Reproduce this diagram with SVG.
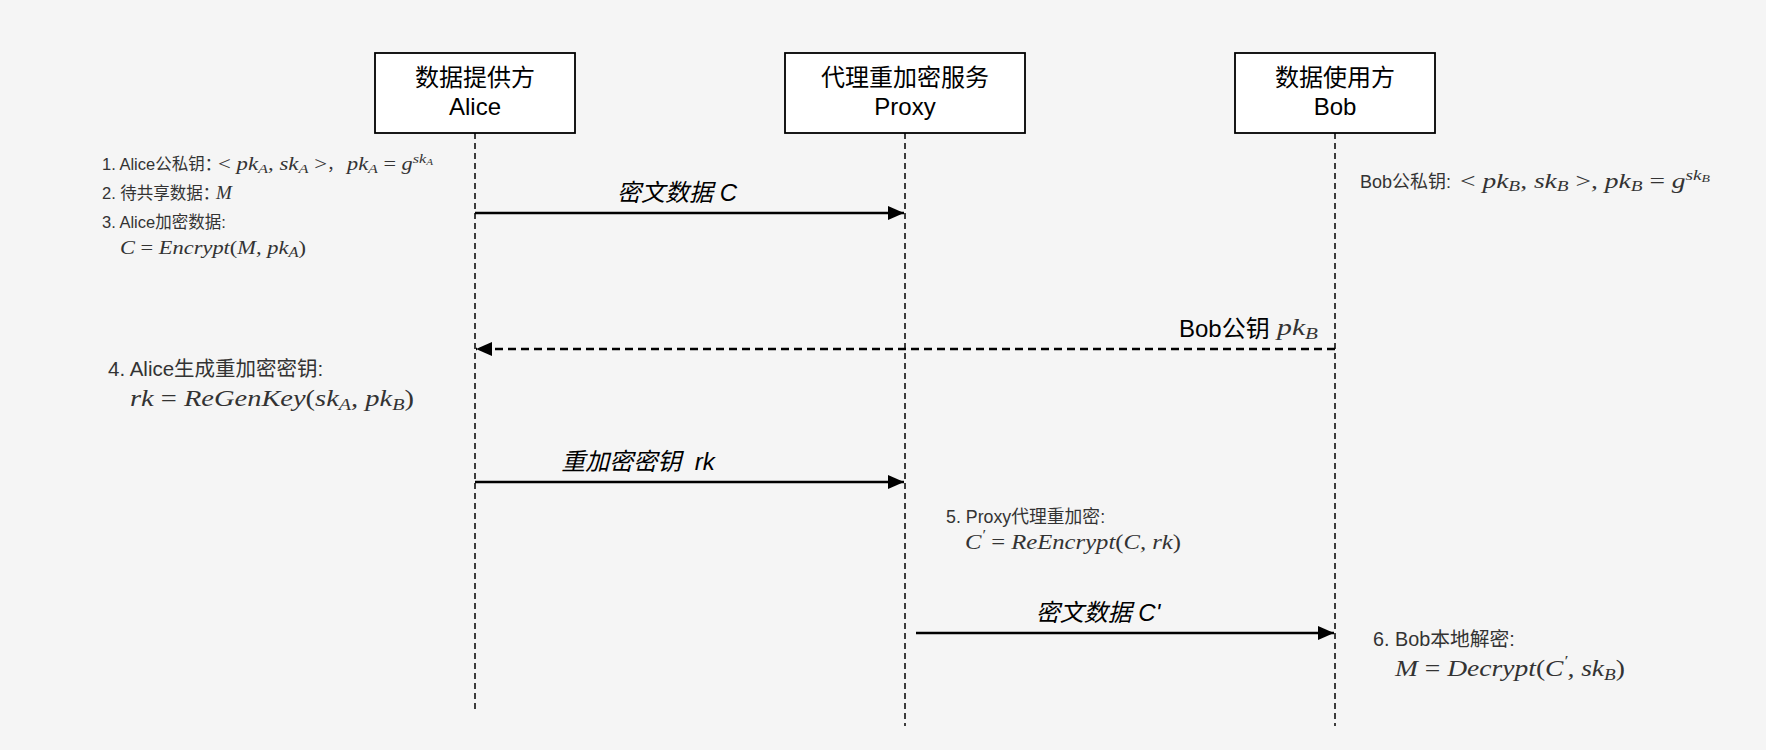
<svg xmlns="http://www.w3.org/2000/svg" width="1766" height="750" viewBox="0 0 1766 750">
<style>
.bg{fill:#f5f5f5}
.box{fill:#ffffff;stroke:#000000;stroke-width:1.8}
.life{stroke:#000000;stroke-width:1.5;stroke-dasharray:6 4;fill:none}
.msg{stroke:#000000;stroke-width:2.4;fill:none}
.dmsg{stroke:#000000;stroke-width:2.4;fill:none;stroke-dasharray:8 5}
.t{font-family:"Liberation Sans","Noto Sans CJK SC",sans-serif;fill:#000000}
.g{font-family:"Liberation Sans","Noto Sans CJK SC",sans-serif;fill:#333333}
.m{font-family:"Liberation Serif",serif;font-style:italic;fill:#333333}
.mk{font-family:"Liberation Serif",serif;font-style:italic;fill:#333333}
.up{font-style:normal}
.lbl{font-family:"Liberation Sans","Noto Sans CJK SC",sans-serif;font-style:italic;font-size:24px;fill:#000000}
.hd{font-family:"Liberation Sans","Noto Sans CJK SC",sans-serif;font-size:24px;fill:#000000}
</style>
<defs>
<marker id="arr" markerUnits="userSpaceOnUse" markerWidth="18" markerHeight="16" refX="16" refY="7" orient="auto">
<path d="M0,0 L16,7 L0,14 z" fill="#000000"/>
</marker>
</defs>
<rect class="bg" x="0" y="0" width="1766" height="750"/>

<g id="lifelines">
<line class="life" x1="475" y1="133" x2="475" y2="713"/>
<line class="life" x1="905" y1="133" x2="905" y2="726"/>
<line class="life" x1="1335" y1="133" x2="1335" y2="726"/>
</g>

<g id="alice">
<rect class="box" x="375" y="53" width="200" height="80"/>
<text class="hd" x="475" y="86" text-anchor="middle">数据提供方</text>
<text class="hd" x="475" y="115" text-anchor="middle">Alice</text>
</g>
<g id="proxy">
<rect class="box" x="785" y="53" width="240" height="80"/>
<text class="hd" x="905" y="86" text-anchor="middle">代理重加密服务</text>
<text class="hd" x="905" y="115" text-anchor="middle">Proxy</text>
</g>
<g id="bob">
<rect class="box" x="1235" y="53" width="200" height="80"/>
<text class="hd" x="1335" y="86" text-anchor="middle">数据使用方</text>
<text class="hd" x="1335" y="115" text-anchor="middle">Bob</text>
</g>

<g id="connectors">
<line class="msg" x1="475" y1="213" x2="904" y2="213" marker-end="url(#arr)"/>
<text class="lbl" x="677" y="201" text-anchor="middle">密文数据 C</text>
<line class="dmsg" x1="1335" y1="349" x2="476" y2="349" marker-end="url(#arr)"/>
<text class="t" x="1179" y="337" font-size="24">Bob公钥</text>
<text class="mk" x="1277" y="335" font-size="24" textLength="41" lengthAdjust="spacingAndGlyphs">pk<tspan font-size="17" dy="4">B</tspan></text>
<line class="msg" x1="475" y1="482" x2="904" y2="482" marker-end="url(#arr)"/>
<text class="lbl" x="638" y="470" text-anchor="middle">重加密密钥&#160;&#160;rk</text>
<line class="msg" x1="916" y1="633" x2="1334" y2="633" marker-end="url(#arr)"/>
<text class="lbl" x="1098" y="621" text-anchor="middle">密文数据 C'</text>
</g>

<g id="alice-notes">
<text class="g" x="102" y="170" font-size="16.5">1. Alice公私钥：</text>
<text class="m" x="218" y="170" font-size="18" textLength="109" lengthAdjust="spacingAndGlyphs"><tspan class="up">&lt;</tspan> pk<tspan font-size="13" dy="3">A</tspan><tspan dy="-3">, sk</tspan><tspan font-size="13" dy="3">A</tspan><tspan dy="-3" class="up"> &gt;</tspan></text>
<text class="g" x="327" y="170" font-size="16">，</text>
<text class="m" x="347" y="170" font-size="18" textLength="86" lengthAdjust="spacingAndGlyphs">pk<tspan font-size="13" dy="3">A</tspan><tspan dy="-3" class="up"> = </tspan>g<tspan font-size="13" dy="-7">sk</tspan><tspan font-size="9" dy="2">A</tspan></text>
<text class="g" x="102" y="199" font-size="16.5">2. 待共享数据：</text>
<text class="m" x="216" y="199" font-size="19">M</text>
<text class="g" x="102" y="228" font-size="16.5">3. Alice加密数据:</text>
<text class="m" x="120" y="254" font-size="19" textLength="186" lengthAdjust="spacingAndGlyphs">C <tspan class="up">=</tspan> Encrypt<tspan class="up">(</tspan>M, pk<tspan font-size="14" dy="3">A</tspan><tspan dy="-3" class="up">)</tspan></text>
</g>

<g id="bob-keys">
<text class="g" x="1360" y="188" font-size="18">Bob公私钥:</text>
<text class="m" x="1460" y="188" font-size="20" textLength="250" lengthAdjust="spacingAndGlyphs"><tspan class="up">&lt;</tspan> pk<tspan font-size="14" dy="3">B</tspan><tspan dy="-3">, sk</tspan><tspan font-size="14" dy="3">B</tspan><tspan dy="-3" class="up"> &gt;</tspan>, pk<tspan font-size="14" dy="3">B</tspan><tspan dy="-3" class="up"> = </tspan>g<tspan font-size="14" dy="-8">sk</tspan><tspan font-size="10" dy="2">B</tspan></text>
</g>

<g id="regen-note">
<text class="g" x="108" y="376" font-size="20.5">4. Alice生成重加密密钥:</text>
<text class="m" x="130" y="406" font-size="24" textLength="284" lengthAdjust="spacingAndGlyphs">rk <tspan class="up">=</tspan> ReGenKey<tspan class="up">(</tspan>sk<tspan font-size="17" dy="4">A</tspan><tspan dy="-4">, pk</tspan><tspan font-size="17" dy="4">B</tspan><tspan dy="-4" class="up">)</tspan></text>
</g>

<g id="reenc-note">
<text class="g" x="946" y="523" font-size="17.8">5. Proxy代理重加密:</text>
<text class="m" x="965" y="549" font-size="21" textLength="216" lengthAdjust="spacingAndGlyphs">C<tspan font-size="14" dy="-9">′</tspan><tspan dy="9"> </tspan><tspan class="up">=</tspan> ReEncrypt<tspan class="up">(</tspan>C, rk<tspan class="up">)</tspan></text>
</g>

<g id="dec-note">
<text class="g" x="1373" y="646" font-size="19.8">6. Bob本地解密:</text>
<text class="m" x="1395" y="676" font-size="23" textLength="230" lengthAdjust="spacingAndGlyphs">M <tspan class="up">=</tspan> Decrypt<tspan class="up">(</tspan>C<tspan font-size="15" dy="-10">′</tspan><tspan dy="10">, sk</tspan><tspan font-size="16" dy="4">B</tspan><tspan dy="-4" class="up">)</tspan></text>
</g>
</svg>
